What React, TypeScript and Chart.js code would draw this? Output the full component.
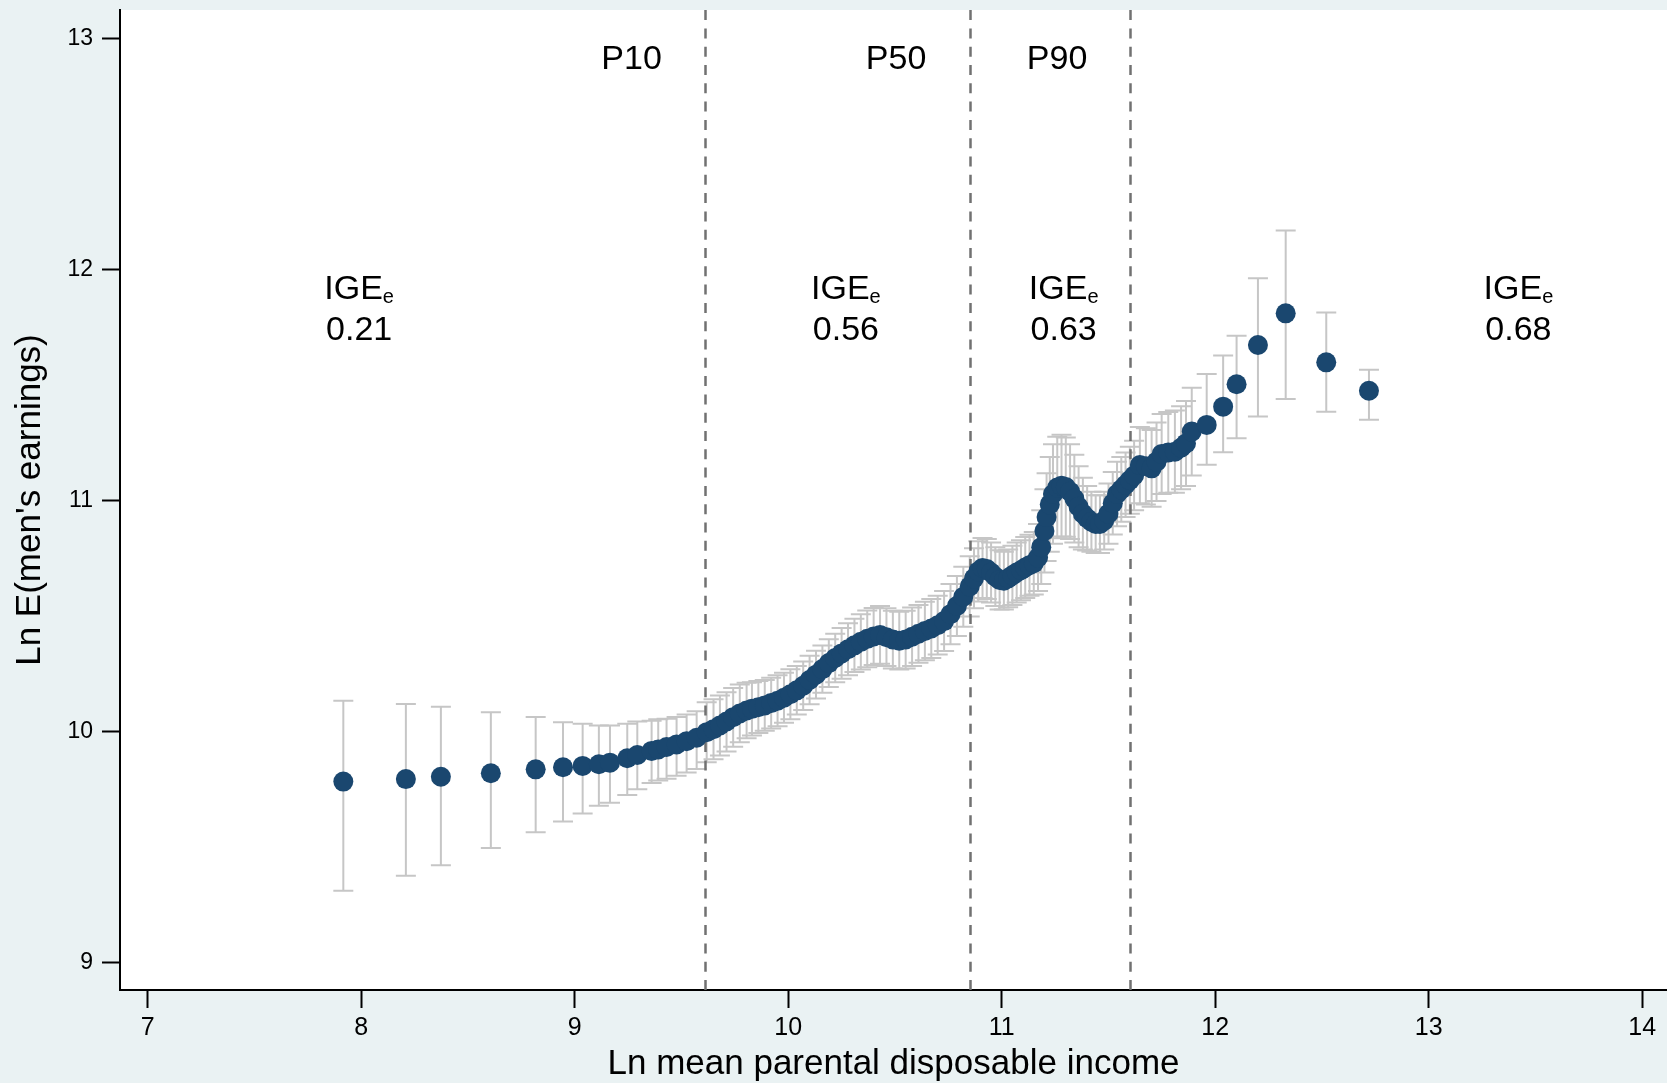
import React, { useEffect, useRef } from 'react';
import { Chart, registerables } from 'chart.js';

Chart.register(...registerables);

// ---------- data ----------
const xTickValues = [7, 8, 9, 10, 11, 12, 13, 14];
const yTickValues = [9, 10, 11, 12, 13];

const xValues = [
  7.916, 8.209, 8.373, 8.607, 8.817, 8.945, 9.037, 9.113, 9.165, 9.246, 9.293, 9.36, 9.391, 9.43, 9.477, 9.524, 9.571,
  9.618, 9.65, 9.68, 9.711, 9.742, 9.773, 9.805, 9.83, 9.86, 9.89, 9.92, 9.95, 9.98, 10.01, 10.04, 10.07, 10.1, 10.13,
  10.16, 10.19, 10.22, 10.25, 10.28, 10.31, 10.34, 10.37, 10.4, 10.43, 10.46, 10.49, 10.52, 10.55, 10.58, 10.61, 10.64,
  10.67, 10.7, 10.73, 10.76, 10.79, 10.82, 10.85, 10.87, 10.89, 10.91, 10.93, 10.95, 10.97, 10.99, 11.01, 11.03, 11.05,
  11.07, 11.09, 11.11, 11.13, 11.15, 11.17, 11.185, 11.2, 11.21, 11.225, 11.24, 11.26, 11.28, 11.3, 11.32, 11.34, 11.36,
  11.38, 11.4, 11.42, 11.44, 11.46, 11.48, 11.5, 11.52, 11.54, 11.56, 11.58, 11.6, 11.62, 11.647, 11.675, 11.702, 11.725,
  11.749, 11.78, 11.811, 11.84, 11.863, 11.89, 11.96, 12.037, 12.1, 12.2, 12.33, 12.52, 12.72,
];

const meanValues = [
  9.785, 9.796, 9.806, 9.821, 9.838, 9.847, 9.853, 9.86, 9.867, 9.886, 9.9, 9.918, 9.924, 9.935, 9.946, 9.96, 9.975,
  9.999, 10.012, 10.028, 10.045, 10.064, 10.08, 10.093, 10.1, 10.107, 10.115, 10.125, 10.135, 10.148, 10.163, 10.18, 10.2, 10.225, 10.248,
  10.272, 10.298, 10.32, 10.34, 10.358, 10.375, 10.39, 10.403, 10.413, 10.42, 10.41, 10.4, 10.395, 10.4, 10.412, 10.425, 10.437,
  10.448, 10.462, 10.48, 10.51, 10.545, 10.585, 10.63, 10.665, 10.695, 10.71, 10.705, 10.69, 10.672, 10.658, 10.655, 10.665, 10.678,
  10.69, 10.7, 10.712, 10.722, 10.73, 10.755, 10.8, 10.87, 10.93, 10.985, 11.03, 11.058, 11.066, 11.06, 11.04, 11.01, 10.975,
  10.945, 10.925, 10.91, 10.9, 10.9, 10.915, 10.945, 10.99, 11.03, 11.05, 11.07, 11.09, 11.11, 11.155, 11.15, 11.141, 11.17,
  11.203, 11.21, 11.213, 11.23, 11.249, 11.3, 11.329, 11.408, 11.505, 11.675, 11.812, 11.6, 11.477,
];

const lowerValues = [
  9.313, 9.377, 9.423, 9.498, 9.566, 9.612, 9.647, 9.681, 9.694, 9.727, 9.752, 9.779, 9.79, 9.797, 9.81, 9.825, 9.84,
  9.869, 9.882, 9.898, 9.915, 9.936, 9.955, 9.973, 9.985, 9.995, 10.005, 10.015, 10.025, 10.04, 10.055, 10.075, 10.095, 10.12, 10.145,
  10.17, 10.195, 10.215, 10.23, 10.245, 10.26, 10.27, 10.28, 10.29, 10.295, 10.285, 10.275, 10.27, 10.275, 10.285, 10.3, 10.31,
  10.32, 10.335, 10.35, 10.38, 10.415, 10.455, 10.5, 10.535, 10.565, 10.58, 10.575, 10.56, 10.545, 10.53, 10.53, 10.54, 10.55,
  10.56, 10.57, 10.58, 10.59, 10.595, 10.61, 10.64, 10.69, 10.74, 10.78, 10.815, 10.838, 10.846, 10.845, 10.835, 10.82, 10.8,
  10.79, 10.785, 10.78, 10.775, 10.775, 10.79, 10.815, 10.855, 10.89, 10.91, 10.93, 10.945, 10.96, 10.99, 10.985, 10.975, 11.0,
  11.03, 11.035, 11.035, 11.05, 11.065, 11.11, 11.157, 11.211, 11.271, 11.365, 11.441, 11.386, 11.351,
];

const upperValues = [
  10.135, 10.121, 10.109, 10.085, 10.065, 10.042, 10.035, 10.028, 10.028, 10.035, 10.045, 10.049, 10.055, 10.057, 10.065, 10.075, 10.09,
  10.129, 10.142, 10.158, 10.172, 10.19, 10.205, 10.213, 10.215, 10.22, 10.225, 10.235, 10.245, 10.256, 10.271, 10.285, 10.305, 10.33, 10.351,
  10.374, 10.401, 10.425, 10.45, 10.471, 10.49, 10.51, 10.526, 10.536, 10.545, 10.535, 10.525, 10.52, 10.525, 10.539, 10.55, 10.564,
  10.576, 10.589, 10.61, 10.64, 10.675, 10.715, 10.76, 10.795, 10.825, 10.84, 10.835, 10.82, 10.8, 10.786, 10.78, 10.79, 10.806,
  10.82, 10.83, 10.844, 10.854, 10.865, 10.9, 10.96, 11.05, 11.12, 11.19, 11.245, 11.278, 11.286, 11.275, 11.245, 11.2, 11.15,
  11.1, 11.065, 11.04, 11.025, 11.025, 11.04, 11.075, 11.125, 11.17, 11.19, 11.21, 11.235, 11.26, 11.32, 11.315, 11.307, 11.34,
  11.376, 11.385, 11.391, 11.41, 11.433, 11.49, 11.549, 11.629, 11.715, 11.964, 12.171, 11.816, 11.568,
];

const percentileNames = ['P10', 'P50', 'P90'];
const percentileLines = [9.61, 10.849, 11.6];
const percentileLabelX = [9.266, 10.505, 11.259];

const igeValues = ['0.21', '0.56', '0.63', '0.68'];
const igeLabelX = [7.99, 10.27, 11.29, 13.42];

// ---------- styling ----------
const FONT = '"Liberation Sans", Arial, Helvetica, sans-serif';
const BG = '#eaf2f3';
const NAVY = '#1a476f';
const BAR_GREY = '#c6c6c6';

const backgroundPlugin = {
  id: 'bgPlugin',
  beforeDraw(chart: any) {
    const { ctx, chartArea, width, height } = chart;
    ctx.save();
    ctx.fillStyle = BG;
    ctx.fillRect(0, 0, width, height);
    ctx.fillStyle = '#ffffff';
    ctx.fillRect(chartArea.left, chartArea.top, width - chartArea.left, chartArea.bottom - chartArea.top);
    ctx.restore();
  },
};

const errorBarPlugin = {
  id: 'errorBars',
  beforeDatasetsDraw(chart: any) {
    const { ctx, chartArea, scales } = chart;
    const xs = scales.x;
    const ys = scales.y;
    ctx.save();
    ctx.beginPath();
    ctx.rect(chartArea.left, chartArea.top, chartArea.right - chartArea.left, chartArea.bottom - chartArea.top);
    ctx.clip();
    ctx.strokeStyle = BAR_GREY;
    ctx.lineWidth = 2;
    const cap = 10;
    for (let i = 0; i < xValues.length; i++) {
      const px = xs.getPixelForValue(xValues[i]);
      const pl = ys.getPixelForValue(lowerValues[i]);
      const ph = ys.getPixelForValue(upperValues[i]);
      ctx.beginPath();
      ctx.moveTo(px, pl);
      ctx.lineTo(px, ph);
      ctx.moveTo(px - cap, pl);
      ctx.lineTo(px + cap, pl);
      ctx.moveTo(px - cap, ph);
      ctx.lineTo(px + cap, ph);
      ctx.stroke();
    }
    // dashed percentile lines
    ctx.strokeStyle = '#717171';
    ctx.lineWidth = 2.5;
    ctx.setLineDash([10, 8.3]);
    for (const v of percentileLines) {
      const px = Math.round(xs.getPixelForValue(v)) + 0.5;
      ctx.beginPath();
      ctx.moveTo(px, chartArea.bottom);
      ctx.lineTo(px, chartArea.top);
      ctx.stroke();
    }
    ctx.restore();
  },
};

const annotationPlugin = {
  id: 'annotations',
  afterDatasetsDraw(chart: any) {
    const { ctx, scales } = chart;
    const xs = scales.x;
    const ys = scales.y;
    ctx.save();
    ctx.fillStyle = '#000000';
    ctx.textBaseline = 'alphabetic';
    const big = `34px ${FONT}`;
    const small = `20px ${FONT}`;
    ctx.font = big;
    ctx.textAlign = 'center';
    const pY = ys.getPixelForValue(12.869);
    percentileNames.forEach((t, i) => {
      ctx.fillText(t, xs.getPixelForValue(percentileLabelX[i]), pY);
    });
    const igeY = ys.getPixelForValue(11.873);
    const numY = ys.getPixelForValue(11.696);
    igeValues.forEach((val, i) => {
      const cx = xs.getPixelForValue(igeLabelX[i]);
      ctx.font = big;
      const w1 = ctx.measureText('IGE').width;
      ctx.font = small;
      const w2 = ctx.measureText('e').width;
      const left = cx - (w1 + w2) / 2;
      ctx.textAlign = 'left';
      ctx.font = big;
      ctx.fillText('IGE', left, igeY);
      ctx.font = small;
      ctx.fillText('e', left + w1, igeY + 4);
      ctx.font = big;
      ctx.textAlign = 'center';
      ctx.fillText(val, cx, numY);
    });
    ctx.restore();
  },
};

export default function App() {
  const canvasRef = useRef<HTMLCanvasElement>(null);

  useEffect(() => {
    document.body.style.margin = '0';
    document.body.style.overflow = 'hidden';
    const canvas = canvasRef.current;
    if (!canvas) return;
    Chart.defaults.font.family = FONT;
    Chart.defaults.color = '#000000';

    const points = xValues.map((x, i) => ({ x, y: meanValues[i] }));

    const chart = new Chart(canvas, {
      type: 'scatter',
      data: {
        datasets: [
          {
            label: "Ln E(men's earnings)",
            data: points,
            backgroundColor: NAVY,
            borderColor: NAVY,
            borderWidth: 0,
            pointRadius: 10,
            pointHoverRadius: 10,
            showLine: false,
          },
        ],
      },
      options: {
        responsive: false,
        animation: false,
        devicePixelRatio: 1,
        layout: { autoPadding: false, padding: { top: 10, right: 0, bottom: 0, left: 0 } },
        plugins: {
          legend: { display: false },
          tooltip: { enabled: false },
          title: { display: false },
        },
        scales: {
          x: {
            type: 'linear',
            min: 6.87,
            max: 14.116,
            afterBuildTicks: (scale: any) => {
              scale.ticks = xTickValues.map((v) => ({ value: v }));
            },
            afterFit: (scale: any) => {
              scale.height = 93;
              scale.paddingLeft = 0;
              scale.paddingRight = 0;
              scale.paddingTop = 0;
              scale.paddingBottom = 0;
            },
            ticks: {
              font: { size: 25, family: FONT },
              color: '#000',
              padding: 5,
              maxRotation: 0,
              autoSkip: false,
              callback: (v: any) => String(v),
            },
            grid: {
              display: true,
              drawOnChartArea: false,
              drawTicks: true,
              tickLength: 18,
              tickWidth: 2,
              tickColor: '#000',
            },
            border: { display: true, color: '#000', width: 2 },
            title: {
              display: true,
              text: 'Ln mean parental disposable income',
              font: { size: 35, family: FONT },
              color: '#000',
              padding: { top: 0, bottom: -2 },
            },
          },
          y: {
            type: 'linear',
            min: 8.883,
            max: 13.125,
            afterBuildTicks: (scale: any) => {
              scale.ticks = yTickValues.map((v) => ({ value: v }));
            },
            afterFit: (scale: any) => {
              scale.width = 120;
              scale.paddingLeft = 0;
              scale.paddingRight = 0;
              scale.paddingTop = 0;
              scale.paddingBottom = 0;
            },
            ticks: {
              font: { size: 23, family: FONT },
              color: '#000',
              padding: 9,
              autoSkip: false,
              callback: (v: any) => String(v),
            },
            grid: {
              display: true,
              drawOnChartArea: false,
              drawTicks: true,
              tickLength: 18,
              tickWidth: 2,
              tickColor: '#000',
            },
            border: { display: true, color: '#000', width: 2 },
            title: {
              display: true,
              text: "Ln E(men's earnings)",
              font: { size: 35, family: FONT },
              color: '#000',
              padding: { top: 9, bottom: 0 },
            },
          },
        },
      },
      plugins: [backgroundPlugin, errorBarPlugin, annotationPlugin],
    });

    return () => chart.destroy();
  }, []);

  return (
    <div style={{ width: 1667, height: 1083, position: 'relative', overflow: 'hidden' }}>
      <canvas ref={canvasRef} width={1667} height={1083} style={{ display: 'block', width: 1667, height: 1083 }} />
    </div>
  );
}
